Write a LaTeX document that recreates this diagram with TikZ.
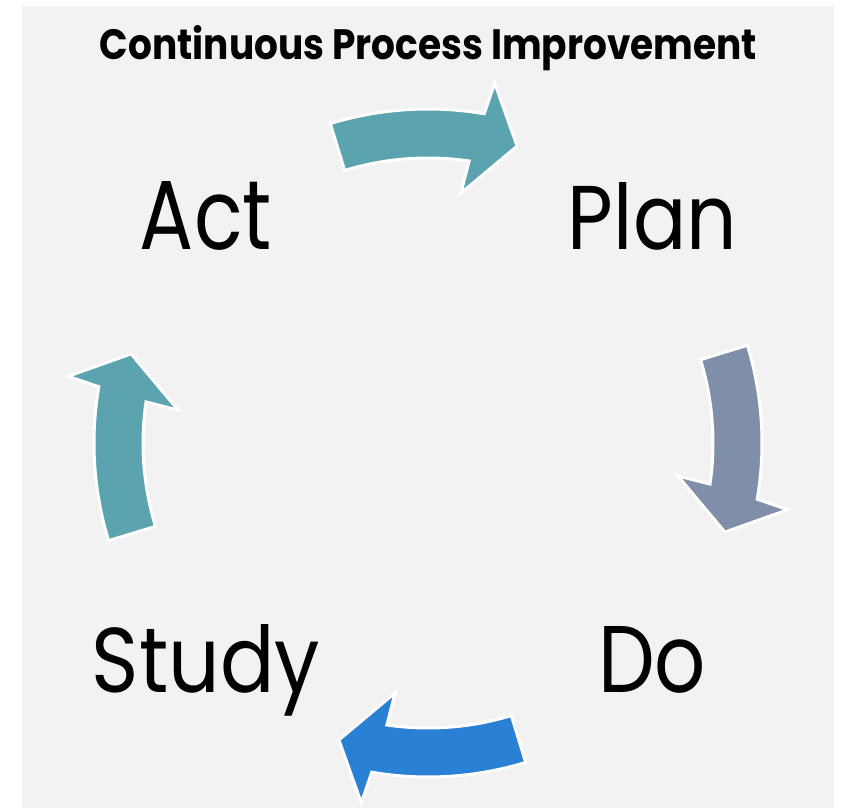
\documentclass[tikz,border=0pt]{standalone}
\usepackage{fontspec}
\setmainfont{Poppins}
\usepackage{graphicx}
\definecolor{teal1}{RGB}{91,164,175}
\definecolor{slate1}{RGB}{127,143,169}
\definecolor{blue1}{RGB}{42,128,213}
\definecolor{bggray}{RGB}{242,242,242}
\newcommand{\cyclearrow}[2]{%
  \fill[#2, draw=white, line width=3pt, line join=miter]
    ($(C)+(#1+17:334pt)$) arc[start angle=#1+17, end angle=#1-9.7, radius=334pt]
    -- ($(C)+(#1-10.5:366pt)$)
    -- ($(C)+(#1-16.7:310pt)$)
    -- ($(C)+(#1-7.5:252pt)$)
    -- ($(C)+(#1-8.3:285pt)$)
    arc[start angle=#1-8.3, end angle=#1+17, radius=285pt]
    -- cycle;}
\usetikzlibrary{calc}
\tikzset{biglabel/.style={anchor=base, inner sep=0pt, text=black}}
\begin{document}
\begin{tikzpicture}[x=1pt,y=1pt]
\useasboundingbox (0,0) rectangle (843,808);
\fill[white] (0,0) rectangle (843,808);
\fill[bggray] (22,0) rectangle (834,802);
\coordinate (C) at (428,365);
\cyclearrow{90}{teal1}
\cyclearrow{0}{slate1}
\cyclearrow{-90}{blue1}
\cyclearrow{180}{teal1}
\node[biglabel] (title) at (428.5,748) {\resizebox{657pt}{34pt}{\bfseries Continuous Process Improvement}};
\node[biglabel] (act) at (206,558) {\resizebox{132pt}{68pt}{Act}};
\node[biglabel] (plan) at (652.5,558) {\resizebox{169pt}{67pt}{Plan}};
\node[biglabel] (study) at (206,115) {\resizebox{228pt}{68pt}{Study}};
\node[biglabel] (do) at (652,115) {\resizebox{108pt}{66pt}{Do}};
\end{tikzpicture}
\end{document}
